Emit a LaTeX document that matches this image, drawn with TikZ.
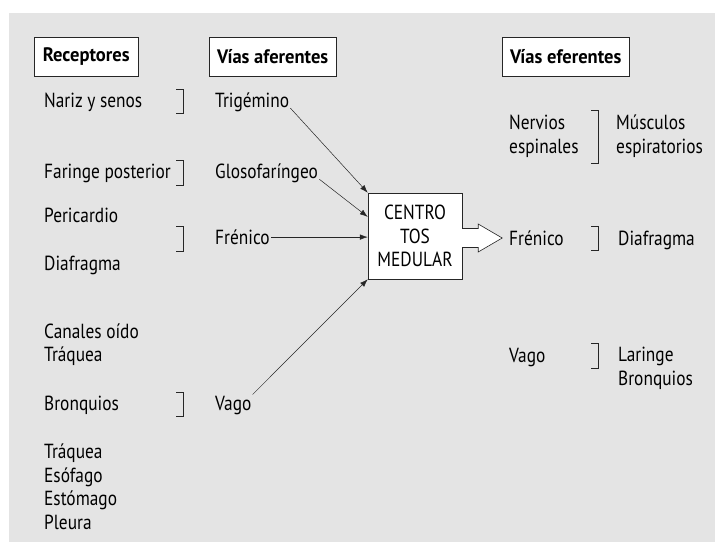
\documentclass[tikz,border=0pt]{standalone}
\usepackage{fontspec}
\setmainfont{PT Sans}[FakeStretch=0.85]
\newfontfamily\titulofont{PT Sans}[FakeStretch=0.95]
\usetikzlibrary{arrows.meta,shapes,positioning}
\definecolor{fondo}{RGB}{228,228,228}

\begin{document}
\begin{tikzpicture}[x=1pt,y=-1pt,>={Latex[length=8pt,width=5.5pt]},
                    font=\fontsize{20.4}{23.5}\selectfont]
\tikzstyle{titulo}=[rectangle,draw=black!85,fill=white,minimum height=39pt,anchor=west,font=\titulofont\fontsize{19.5}{21}\selectfont\bfseries]
\tikzstyle{texto}=[inner sep=0pt,anchor=base west,align=left]
\tikzstyle{centro}=[rectangle,draw=black!85,fill=white,minimum width=94pt,minimum height=86pt,align=center]
\tikzstyle{flecha}=[->,draw=black!85,line width=0.5pt,shorten <=1.5pt]
\tikzstyle{llave}=[draw=black!85,line width=0.6pt]

\useasboundingbox (0,0) rectangle (715,542);
\fill[fondo] (9,13) rectangle (715,542);

\node[titulo,minimum width=104pt] (receptores) at (34,57) {Receptores};
\node[titulo,minimum width=127pt] (aferentes) at (209,57) {Vías aferentes};
\node[titulo,minimum width=127pt] (eferentes) at (502,57) {Vías eferentes};

\node[texto] (nariz) at (44,107) {Nariz y senos};
\node[texto] (faringe) at (44,178.3) {Faringe posterior};
\node[texto] (pericardio) at (44,222.3) {Pericardio};
\node[texto] (diafragma) at (44,270) {Diafragma};
\node[texto] (canales) at (44,361.7) {Canales oído\\Tráquea};
\node[texto] (bronquios) at (44,410) {Bronquios};
\node[texto] (traquea) at (44,529) {Tráquea\\Esófago\\Estómago\\Pleura};

\node[texto] (trigemino) at (215,107) {Trigémino};
\node[texto] (gloso) at (215,178.3) {Glosofaríngeo};
\node[texto] (frenico) at (215,244.3) {Frénico};
\node[texto] (vago) at (215,410) {Vago};

\node[centro] (medular) at (415,236) {CENTRO\\TOS\\MEDULAR};

\node[texto] (nervios) at (509,153.3) {Nervios\\espinales};
\node[texto] (musculos) at (616,153.3) {Músculos\\espiratorios};
\node[texto] (frenico2) at (509,245) {Frénico};
\node[texto] (diafragma2) at (618,245) {Diafragma};
\node[texto] (vago2) at (509,362) {Vago};
\node[texto] (laringe) at (618,385) {Laringe\\Bronquios};

% corchetes
\draw[llave] (176,89) -- (183.5,89) -- (183.5,113.5) -- (176,113.5);
\draw[llave] (176,160.5) -- (183.5,160.5) -- (183.5,185) -- (176,185);
\draw[llave] (176,226.5) -- (183.5,226.5) -- (183.5,251) -- (176,251);
\draw[llave] (176,392) -- (183.5,392) -- (183.5,416.5) -- (176,416.5);
\draw[llave] (591,110) -- (598,110) -- (598,163) -- (591,163);
\draw[llave] (591,226) -- (598,226) -- (598,250) -- (591,250);
\draw[llave] (591,343) -- (598,343) -- (598,368) -- (591,368);

\draw[flecha] (trigemino.base east) -- (medular.north west);
\draw[flecha] (gloso.base east) -- (medular.158);
\draw[flecha] (frenico.east) -- (frenico.east -| medular.west);
\draw[flecha] (vago.north east) -- (medular.south west);

% flecha de salida
\begin{scope}[shift={(medular.east)}]
\fill[white] (-1,-7.5) -- (16,-7.5) -- (16,-12) -- (40,2) -- (16,16) -- (16,11.5) -- (-1,11.5) -- cycle;
\draw[llave] (0,-7.5) -- (16,-7.5) -- (16,-12) -- (40,2) -- (16,16) -- (16,11.5) -- (0,11.5);
\end{scope}
\end{tikzpicture}
\end{document}
